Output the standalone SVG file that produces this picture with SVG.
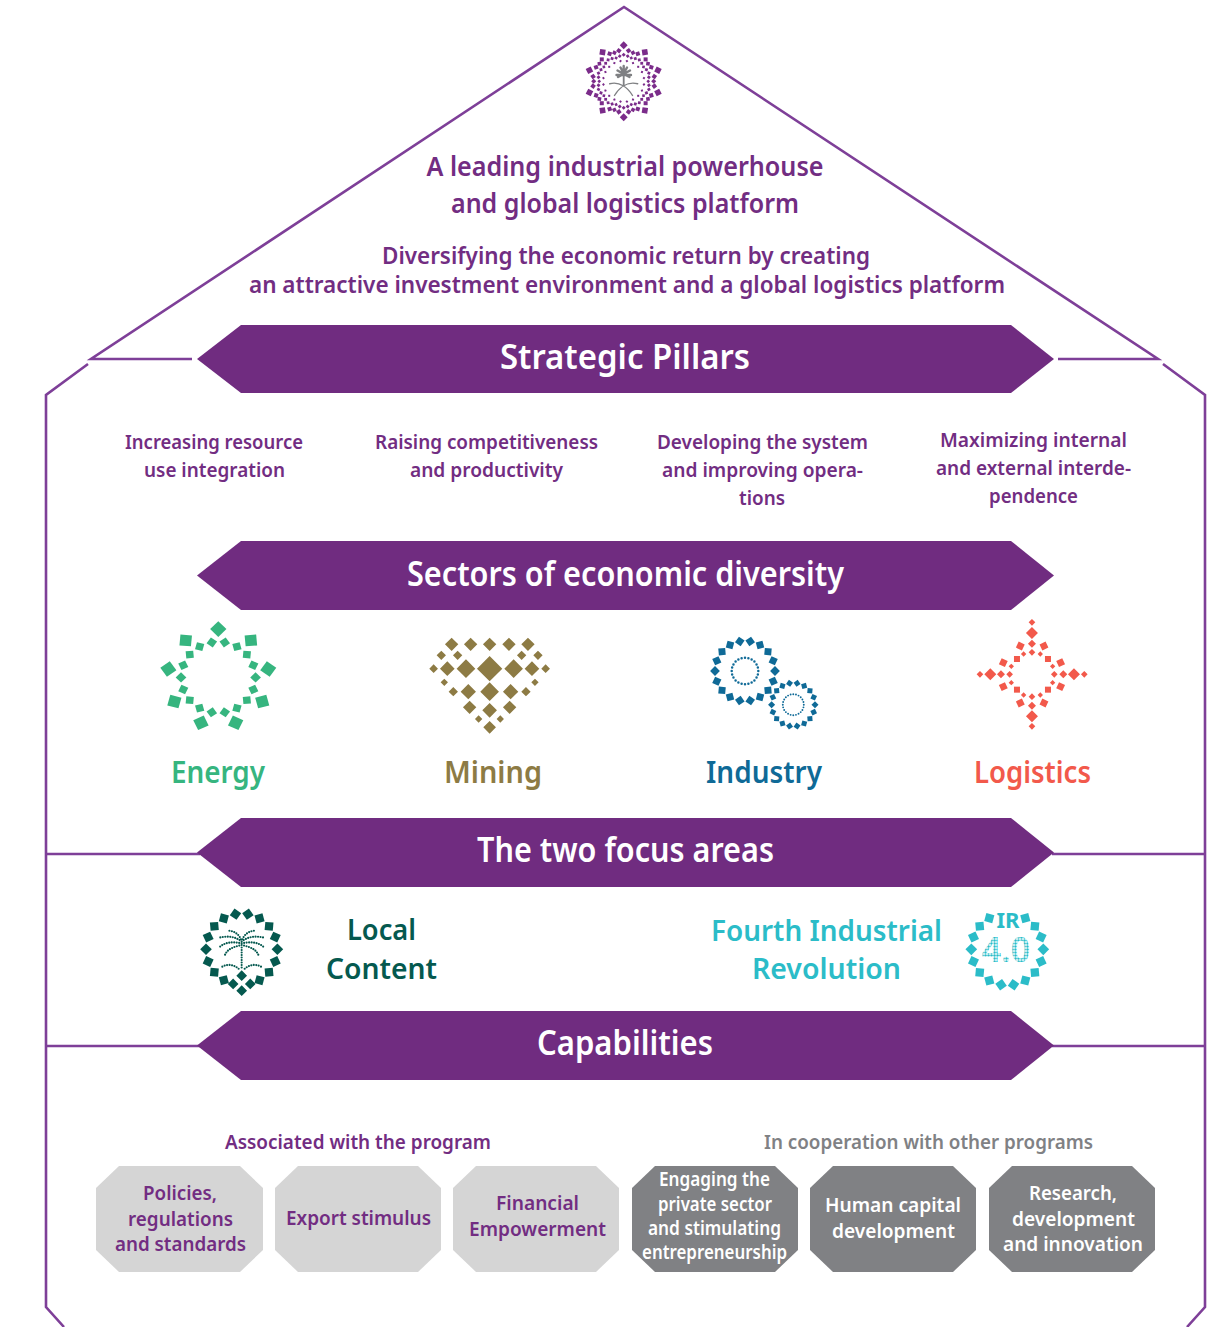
<svg xmlns="http://www.w3.org/2000/svg" width="1223" height="1327" viewBox="0 0 1223 1327">
<style>
text{font-family:"Noto Sans","Open Sans","Liberation Sans",sans-serif;font-weight:600;text-anchor:middle}
.line{fill:none;stroke:#7e3f98;stroke-width:2.6}
.banner{fill:#702c80}
.bt{fill:#fff;font-size:34px}
.p{fill:#722d82}
.g{fill:#808184}
.w{fill:#fff}
.t21{font-size:20px}
.t25{font-size:24px}
.t28{font-size:27px}
.lt{fill:#d5d5d5}
.dk{fill:#808184}
.dot{fill:none;stroke-linecap:round}
</style>
<defs>
<rect id="s" x="-11.500" y="-111.500" width="23" height="23" transform="rotate(45 0 -100)"/>
<g id="arcA"><use href="#s" transform="rotate(30)"/><use href="#s" transform="rotate(50)"/><use href="#s" transform="rotate(70)"/><use href="#s" transform="rotate(90)"/><use href="#s" transform="rotate(110)"/><use href="#s" transform="rotate(130)"/><use href="#s" transform="rotate(150)"/></g>
<g id="arcB"><use href="#s" transform="rotate(210)"/><use href="#s" transform="rotate(230)"/><use href="#s" transform="rotate(250)"/><use href="#s" transform="rotate(270)"/><use href="#s" transform="rotate(290)"/><use href="#s" transform="rotate(310)"/><use href="#s" transform="rotate(330)"/></g>
<g id="top2"><use href="#s" transform="rotate(10)"/><use href="#s" transform="rotate(-10)"/></g>
<g id="bot2"><use href="#s" transform="rotate(170)"/><use href="#s" transform="rotate(190)"/></g>
<g id="ring18"><use href="#arcA"/><use href="#arcB"/><use href="#top2"/><use href="#bot2"/></g>
<g id="es">
<rect x="-5.500" y="-53.800" width="11" height="11" transform="rotate(45 0 -48.300)"/>
<g transform="rotate(10)"><rect x="-3.600" y="-39.100" width="7.200" height="7.200" transform="rotate(45 0 -35.500)"/></g>
<g transform="rotate(-10)"><rect x="-3.600" y="-39.100" width="7.200" height="7.200" transform="rotate(45 0 -35.500)"/></g>
</g>
<g id="em">
<rect x="-2.800" y="-38.800" width="5.600" height="5.600" transform="rotate(45 0 -36)"/>
<rect x="-1.400" y="-27.900" width="2.800" height="2.800" transform="rotate(45 0 -26.500)"/>
<g transform="rotate(9)"><rect x="-2" y="-33" width="4" height="4" transform="rotate(45 0 -31)"/><rect x="-1.400" y="-26.900" width="2.800" height="2.800" transform="rotate(45 0 -25.500)"/><rect x="-1" y="-21.500" width="2" height="2" transform="rotate(45 0 -20.500)"/></g>
<g transform="rotate(-9)"><rect x="-2" y="-33" width="4" height="4" transform="rotate(45 0 -31)"/><rect x="-1.400" y="-26.900" width="2.800" height="2.800" transform="rotate(45 0 -25.500)"/><rect x="-1" y="-21.500" width="2" height="2" transform="rotate(45 0 -20.500)"/></g>
<g transform="rotate(18)"><rect x="-1.800" y="-31.800" width="3.600" height="3.600" transform="rotate(45 0 -30)"/><rect x="-1.300" y="-25.800" width="2.600" height="2.600" transform="rotate(45 0 -24.500)"/></g>
</g>
<pattern id="dots" width="3" height="3" patternUnits="userSpaceOnUse"><circle cx="1.500" cy="1.500" r="1.250" fill="#2bbcc8"/></pattern>
</defs>

<g id="connectors">
<path class="line" d="M192 359H91L624 7L1158 359H1058"/>
<path class="line" d="M88 364L46 395V1307L64 1327"/>
<path class="line" d="M1163 364L1205 395V1307L1187 1327"/>
<path class="line" d="M46 854H200M1052 854H1205M46 1046H200M1052 1046H1205"/>
</g>

<g id="emblem">
<g transform="translate(623.700 81.300)" fill="#7b2c8a">
<use href="#em"/><use href="#em" transform="rotate(36)"/><use href="#em" transform="rotate(72)"/><use href="#em" transform="rotate(108)"/><use href="#em" transform="rotate(144)"/><use href="#em" transform="rotate(180)"/><use href="#em" transform="rotate(216)"/><use href="#em" transform="rotate(252)"/><use href="#em" transform="rotate(288)"/><use href="#em" transform="rotate(324)"/>
</g>
<g fill="none" stroke="#7f8083" stroke-linecap="round">
<path stroke-width="2.400" d="M623.700 75L616.500 75M623.700 74L617.500 70.500M623.700 73.500L620.500 67.500M623.700 73V66M623.700 73.500L627 67.500M623.700 74L630 70.500M623.700 75L631 75M623.700 74L618 77M623.700 74L629.500 77"/>
<path stroke-width="1.800" d="M623.700 74V85"/>
<path stroke-width="1.400" d="M609.700 83.700C620 81 628 88 632.500 95.500M637.700 83.700C627 81 619 88 614.500 95.500"/>
</g>
</g>

<g id="vision">
<text class="p t28" x="625" y="175.500" textLength="397" lengthAdjust="spacingAndGlyphs">A leading industrial powerhouse</text>
<text class="p t28" x="625" y="213" textLength="348" lengthAdjust="spacingAndGlyphs">and global logistics platform</text>
<text class="p t25" x="626" y="263.500" textLength="488" lengthAdjust="spacingAndGlyphs">Diversifying the economic return by creating</text>
<text class="p t25" x="627" y="293" textLength="756" lengthAdjust="spacingAndGlyphs">an attractive investment environment and a global logistics platform</text>
</g>

<g id="banner-pillars"><path class="banner" d="M197 359L241 325H1011L1054 359L1011 393H241Z"/><text class="bt" x="625" y="369" textLength="250" lengthAdjust="spacingAndGlyphs">Strategic Pillars</text></g>

<g id="pillar-1"><text class="p t21" x="214" y="449" textLength="178" lengthAdjust="spacingAndGlyphs">Increasing resource</text><text class="p t21" x="214.500" y="477" textLength="141" lengthAdjust="spacingAndGlyphs">use integration</text></g>
<g id="pillar-2"><text class="p t21" x="486.500" y="449" textLength="223" lengthAdjust="spacingAndGlyphs">Raising competitiveness</text><text class="p t21" x="486.500" y="477" textLength="153" lengthAdjust="spacingAndGlyphs">and productivity</text></g>
<g id="pillar-3"><text class="p t21" x="762.500" y="449" textLength="211" lengthAdjust="spacingAndGlyphs">Developing the system</text><text class="p t21" x="762.500" y="477" textLength="201" lengthAdjust="spacingAndGlyphs">and improving opera-</text><text class="p t21" x="762" y="505" textLength="46" lengthAdjust="spacingAndGlyphs">tions</text></g>
<g id="pillar-4"><text class="p t21" x="1033.500" y="447" textLength="187" lengthAdjust="spacingAndGlyphs">Maximizing internal</text><text class="p t21" x="1033.500" y="475" textLength="195" lengthAdjust="spacingAndGlyphs">and external interde-</text><text class="p t21" x="1033.500" y="503" textLength="89" lengthAdjust="spacingAndGlyphs">pendence</text></g>

<g id="banner-sectors"><path class="banner" d="M197 575.500L241 541H1011L1054 575.500L1011 610H241Z"/><text class="bt" x="625.500" y="586" textLength="437" lengthAdjust="spacingAndGlyphs">Sectors of economic diversity</text></g>

<g id="energy">
<g transform="translate(218.300 677.400) scale(1.050 1)" fill="#36b57f">
<use href="#es"/><use href="#es" transform="rotate(40)"/><use href="#es" transform="rotate(80)"/><use href="#es" transform="rotate(120)"/><use href="#es" transform="rotate(160)"/><use href="#es" transform="rotate(200)"/><use href="#es" transform="rotate(240)"/><use href="#es" transform="rotate(280)"/><use href="#es" transform="rotate(320)"/>
</g>
<text x="218" y="783" font-size="30" fill="#36b57f" textLength="94" lengthAdjust="spacingAndGlyphs">Energy</text>
</g>

<g id="mining">
<path transform="translate(150 610) scale(.3333)" fill="#8d7b44" d="M905 83l20 20-20 20-20-20zM962 83l20 20-20 20-20-20zM1019 83l20 20-20 20-20-20zM1077 83l20 20-20 20-20-20zM1134 83l20 20-20 20-20-20zM874 122l14 14-14 14-14-14zM923 122l14 14-14 14-14-14zM1115 122l14 14-14 14-14-14zM1164 122l14 14-14 14-14-14zM851 163l13 13-13 13-13-13zM892 154l22 22-22 22-22-22zM948 148l28 28-28 28-28-28zM1019 138l38 38-38 38-38-38zM1091 148l28 28-28 28-28-28zM1146 154l22 22-22 22-22-22zM1187 163l13 13-13 13-13-13zM883 206l11 11-11 11-11-11zM1155 206l11 11-11 11-11-11zM910 231l14 14-14 14-14-14zM955 222l23 23-23 23-23-23zM1019 217l28 28-28 28-28-28zM1082 222l23 23-23 23-23-23zM1128 231l14 14-14 14-14-14zM959 272l20 20-20 20-20-20zM1019 279l22 22-22 22-22-22zM1079 272l20 20-20 20-20-20zM986 316l11 11-11 11-11-11zM1051 316l11 11-11 11-11-11zM1019 333l19 19-19 19-19-19z"/>
<text x="493" y="783" font-size="30" fill="#8d7b44" textLength="98" lengthAdjust="spacingAndGlyphs">Mining</text>
</g>

<g id="industry">
<g transform="translate(745 671) scale(.3)" fill="#0f6a97"><use href="#ring18"/></g>
<g transform="translate(793.300 704.700) scale(.217)" fill="#0f6a97"><use href="#ring18"/></g>
<g class="dot" stroke="#0f6a97">
<circle cx="745" cy="671" r="13.300" stroke-width="2.500" pathLength="24" stroke-dasharray="0 1"/>
<circle cx="793.300" cy="704.700" r="10.500" stroke-width="1.900" pathLength="24" stroke-dasharray="0 1"/>
</g>
<text x="764" y="783" font-size="30" fill="#0f6a97" textLength="116" lengthAdjust="spacingAndGlyphs">Industry</text>
</g>

<g id="logistics">
<g transform="translate(700 610) scale(.3333)" fill="#f2594b">
<path d="M996 27l10 10-10 10-10-10zM996 51l18 18-18 18-18-18zM996 89l12 12-12 12-12-12zM996 117l10 10-10 10-10-10zM996 250l10 10-10 10-10-10zM996 275l12 12-12 12-12-12zM996 301l18 18-18 18-18-18zM996 339l10 10-10 10-10-10zM830 193l10-10 10 10-10 10zM853 193l18-18 18 18-18 18zM891 193l12-12 12 12-12 12zM919 193l10-10 10 10-10 10zM1053 193l10-10 10 10-10 10zM1078 193l12-12 12 12-12 12zM1104 193l18-18 18 18-18 18zM1143 193l10-10 10 10-10 10zM971 124l8 8-8 8-8-8zM1021 124l8 8-8 8-8-8zM934 161l8 8-8 8-8-8zM1058 161l8 8-8 8-8-8zM934 210l8 8-8 8-8-8zM1058 210l8 8-8 8-8-8zM971 247l8 8-8 8-8-8zM1021 247l8 8-8 8-8-8z"/>
<rect x="942" y="138" width="18" height="18"/><rect x="1035" y="138" width="18" height="18"/><rect x="942" y="230" width="18" height="18"/><rect x="1035" y="230" width="18" height="18"/>
<rect x="-10" y="-10" width="20" height="20" transform="translate(961 108) rotate(25)"/><rect x="-10" y="-10" width="20" height="20" transform="translate(1032 108) rotate(-25)"/><rect x="-10" y="-10" width="20" height="20" transform="translate(910 158) rotate(25)"/><rect x="-10" y="-10" width="20" height="20" transform="translate(1082 158) rotate(-25)"/><rect x="-10" y="-10" width="20" height="20" transform="translate(910 230) rotate(-25)"/><rect x="-10" y="-10" width="20" height="20" transform="translate(1082 230) rotate(25)"/><rect x="-10" y="-10" width="20" height="20" transform="translate(961 279) rotate(-25)"/><rect x="-10" y="-10" width="20" height="20" transform="translate(1032 279) rotate(25)"/>
</g>
<text x="1032.500" y="783" font-size="30" fill="#f2594b" textLength="117" lengthAdjust="spacingAndGlyphs">Logistics</text>
</g>

<g id="banner-focus"><path class="banner" d="M197 852.500L241 818H1011L1054 852.500L1011 887H241Z"/><text class="bt" x="625.500" y="862" textLength="297" lengthAdjust="spacingAndGlyphs">The two focus areas</text></g>

<g id="local-content">
<g transform="translate(241.700 949.300) scale(.357)" fill="#05594f">
<use href="#arcA"/><use href="#arcB"/><use href="#top2"/>
<path d="M-24 82l15 15-15 15-15-15zM24 82l15 15-15 15-15-15zM0 59l15 15-15 15-15-15zM0 101l15 15-15 15-15-15z"/>
</g>
<g transform="translate(190 900) scale(.3333)" class="dot" stroke="#05594f" stroke-width="6.500" stroke-dasharray="0 7.500">
<path d="M155 125C150 105 135 93 115 92M155 125C160 105 175 93 195 92M155 125C135 108 110 108 88 113M155 125C175 108 200 108 222 113M155 130C130 125 105 125 87 143M155 130C180 125 205 125 223 143M155 135C135 140 110 145 103 170M155 135C175 140 200 145 207 170M155 135V205M97 200C115 190 135 195 150 210M213 200C195 190 175 195 160 210"/>
</g>
<text x="381.500" y="940" font-size="29" fill="#05594f" textLength="69" lengthAdjust="spacingAndGlyphs">Local</text>
<text x="381.500" y="979" font-size="29" fill="#05594f" textLength="111" lengthAdjust="spacingAndGlyphs">Content</text>
</g>

<g id="ir40">
<text x="826.500" y="941" font-size="29" fill="#2bbcc8" textLength="231" lengthAdjust="spacingAndGlyphs">Fourth Industrial</text>
<text x="826.500" y="979" font-size="29" fill="#2bbcc8" textLength="149" lengthAdjust="spacingAndGlyphs">Revolution</text>
<g transform="translate(1007.300 949.300) scale(.36)" fill="#2bbcc8"><use href="#arcA"/><use href="#arcB"/><use href="#bot2"/></g>
<text x="1008" y="928.300" font-size="22" fill="#2bbcc8" style="font-weight:700">IR</text>
<text x="1006" y="962" font-size="34" fill="url(#dots)">4.0</text>
</g>

<g id="banner-capabilities"><path class="banner" d="M197 1045.500L241 1011H1011L1054 1045.500L1011 1080H241Z"/><text class="bt" x="625" y="1055" textLength="176" lengthAdjust="spacingAndGlyphs">Capabilities</text></g>

<text class="p t21" x="358" y="1149" textLength="266" lengthAdjust="spacingAndGlyphs">Associated with the program</text>
<text class="g t21" x="928.500" y="1149" textLength="329" lengthAdjust="spacingAndGlyphs">In cooperation with other programs</text>

<g id="cap-1"><path class="lt" d="M119 1166H240L263 1188V1250L240 1272H119L96 1250V1188Z"/><text class="p t21" x="180" y="1200" textLength="74" lengthAdjust="spacingAndGlyphs">Policies,</text><text class="p t21" x="180.500" y="1226" textLength="105" lengthAdjust="spacingAndGlyphs">regulations</text><text class="p t21" x="180.500" y="1251" textLength="131" lengthAdjust="spacingAndGlyphs">and standards</text></g>
<g id="cap-2"><path class="lt" d="M298 1166H418L441 1188V1250L418 1272H298L275 1250V1188Z"/><text class="p t21" x="358.500" y="1225" textLength="145" lengthAdjust="spacingAndGlyphs">Export stimulus</text></g>
<g id="cap-3"><path class="lt" d="M476 1166H596L619 1188V1250L596 1272H476L453 1250V1188Z"/><text class="p t21" x="537.500" y="1210" textLength="83" lengthAdjust="spacingAndGlyphs">Financial</text><text class="p t21" x="537.500" y="1236" textLength="137" lengthAdjust="spacingAndGlyphs">Empowerment</text></g>
<g id="cap-4"><path class="dk" d="M655 1166H775L798 1188V1250L775 1272H655L632 1250V1188Z"/><text class="w t21" x="714.500" y="1186" textLength="111" lengthAdjust="spacingAndGlyphs">Engaging the</text><text class="w t21" x="715" y="1211" textLength="114" lengthAdjust="spacingAndGlyphs">private sector</text><text class="w t21" x="714.500" y="1235" textLength="133" lengthAdjust="spacingAndGlyphs">and stimulating</text><text class="w t21" x="714.500" y="1259" textLength="145" lengthAdjust="spacingAndGlyphs">entrepreneurship</text></g>
<g id="cap-5"><path class="dk" d="M833 1166H953L976 1188V1250L953 1272H833L810 1250V1188Z"/><text class="w t21" x="893" y="1212" textLength="136" lengthAdjust="spacingAndGlyphs">Human capital</text><text class="w t21" x="893.500" y="1238" textLength="123" lengthAdjust="spacingAndGlyphs">development</text></g>
<g id="cap-6"><path class="dk" d="M1012 1166H1132L1155 1188V1250L1132 1272H1012L989 1250V1188Z"/><text class="w t21" x="1073" y="1200" textLength="88" lengthAdjust="spacingAndGlyphs">Research,</text><text class="w t21" x="1073.500" y="1226" textLength="123" lengthAdjust="spacingAndGlyphs">development</text><text class="w t21" x="1073" y="1251" textLength="140" lengthAdjust="spacingAndGlyphs">and innovation</text></g>
</svg>
